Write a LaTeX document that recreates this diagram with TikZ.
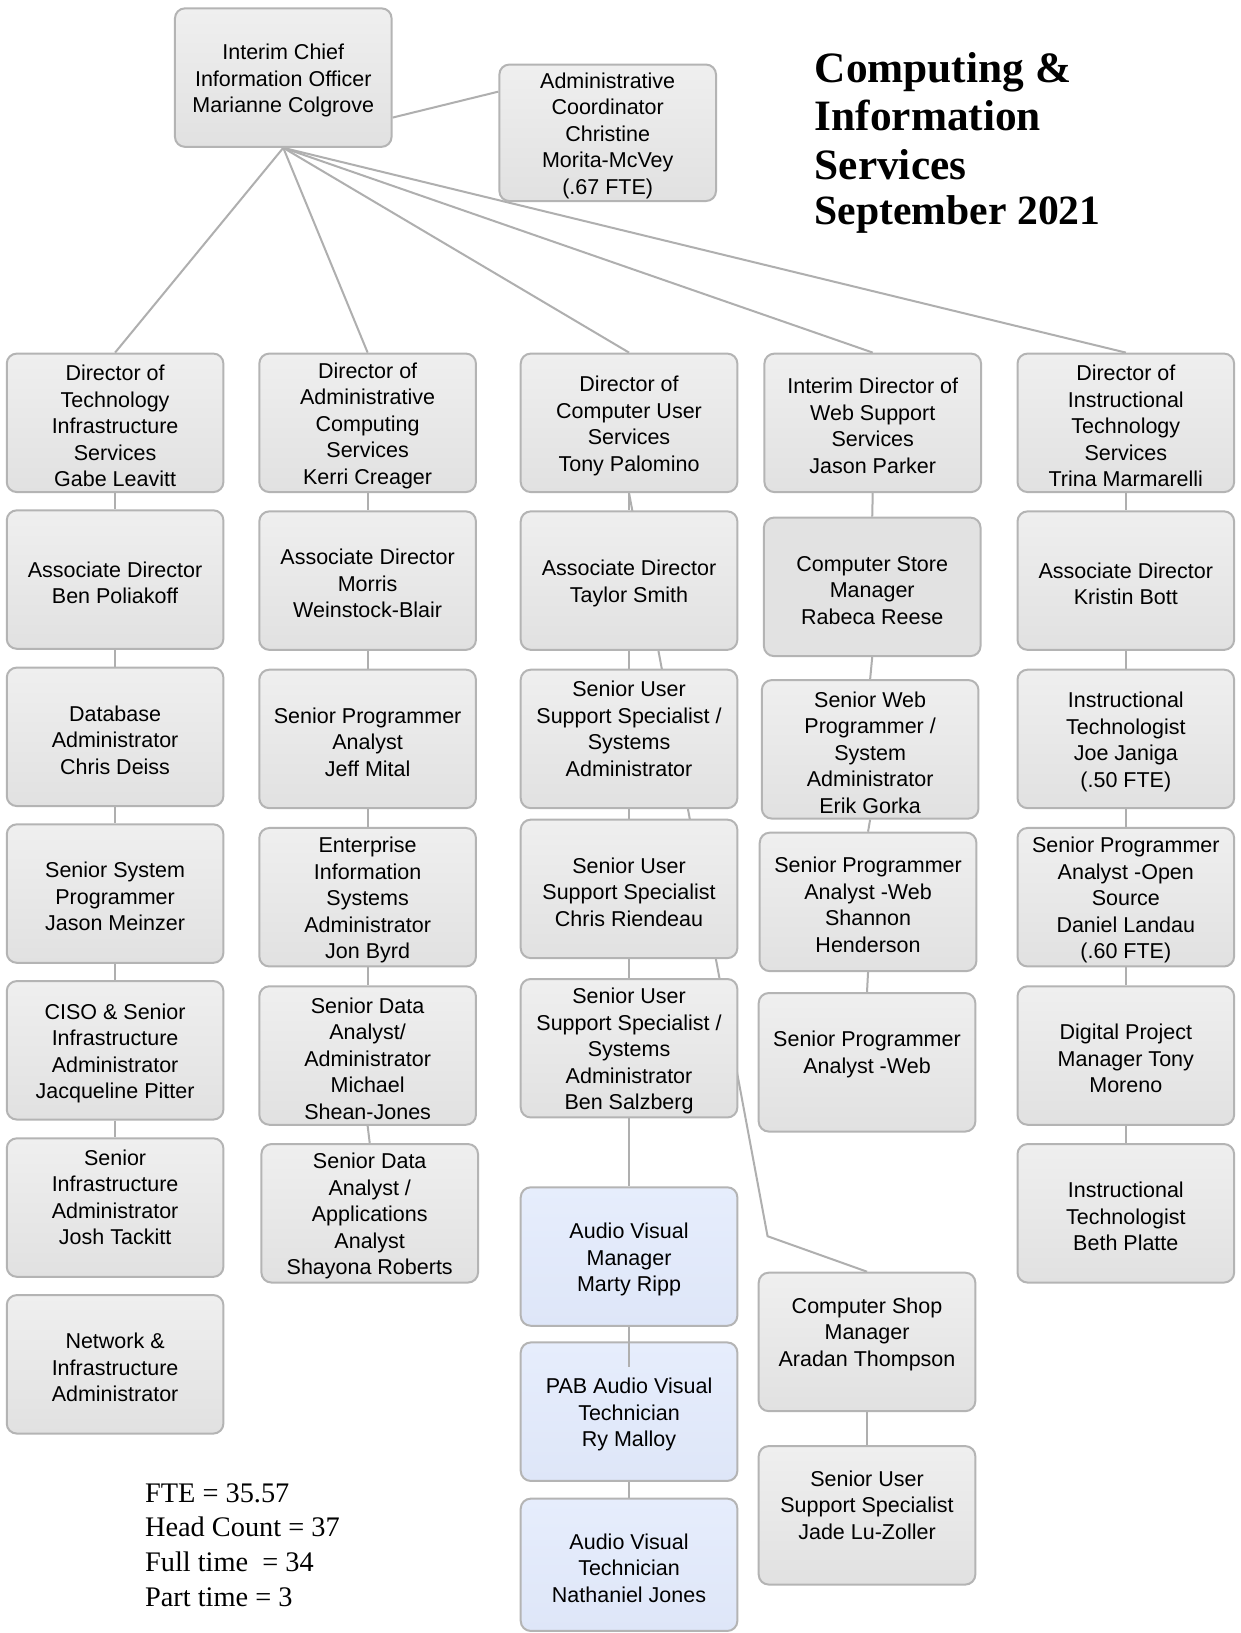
\documentclass[tikz,border=0pt]{standalone}
\usepackage{fontspec}
\setmainfont{Liberation Serif}
\newfontfamily\boxfont{Liberation Sans}
\usetikzlibrary{backgrounds}
\definecolor{boxborder}{HTML}{B4B4B4}
\definecolor{boxtop}{HTML}{EFEFEF}
\definecolor{boxbot}{HTML}{E1E1E1}
\definecolor{storefill}{HTML}{E2E2E2}
\definecolor{avtop}{HTML}{E6EDFC}
\definecolor{avbot}{HTML}{DEE6F8}
\definecolor{linkgray}{HTML}{AFAFAF}
\newcommand\tp{\rule{0pt}{13pt}}
\tikzset{
  orgbox/.style={draw=boxborder, line width=1.2pt, rounded corners=6pt,
    top color=boxtop, bottom color=boxbot, minimum width=130pt,
    minimum height=83.1pt, inner sep=0pt, align=center, text=black,
    font=\boxfont\fontsize{12.9}{15.9}\selectfont},
  avbox/.style={orgbox, top color=avtop, bottom color=avbot},
  flatbox/.style={orgbox, top color=storefill, bottom color=storefill},
  link/.style={draw=linkgray, line width=1.2pt},
}
\begin{document}
\begin{tikzpicture}[x=0.625pt, y=-0.625pt]
\useasboundingbox (0,0) rectangle (1191,1568);

% top
\node[orgbox] (cio) at (272,74.5) {\tp Interim Chief\\Information Officer\\Marianne Colgrove};
\node[orgbox, minimum height=81.9pt] (adm) at (583.5,127.5) {\tp Administrative\\Coordinator\\Christine\\Morita-McVey\\(.67 FTE)};

\node[anchor=north west, inner sep=0pt, align=left,
  font=\bfseries\fontsize{26}{29}\selectfont] (title) at (782,50)
  {Computing \&\\Information\\Services\\[-2pt]{\fontsize{25}{28}\selectfont September 2021}};

% column 1
\node[orgbox] (d1) at (110.5,406) {\tp Director of\\Technology\\Infrastructure\\Services\\Gabe Leavitt};
\node[orgbox] (a1) at (110.5,556.5) {\tp Associate Director\\Ben Poliakoff};
\node[orgbox] (db) at (110.5,707.5) {\tp Database\\Administrator\\Chris Deiss};
\node[orgbox] (ssp) at (110.5,858) {\tp Senior System\\Programmer\\Jason Meinzer};
\node[orgbox] (ciso) at (110.5,1008.5) {\tp CISO \& Senior\\Infrastructure\\Administrator\\Jacqueline Pitter};
\node[orgbox] (josh) at (110.5,1159.5) {\tp Senior\\Infrastructure\\Administrator\\Josh Tackitt\\\mbox{}};
\node[orgbox] (net) at (110.5,1310) {\tp Network \&\\Infrastructure\\Administrator};

% column 2
\node[orgbox] (d2) at (353,406) {\tp Director of\\Administrative\\Computing\\Services\\Kerri Creager};
\node[orgbox] (a2) at (353,557.5) {\tp Associate Director\\Morris\\Weinstock-Blair};
\node[orgbox] (jeff) at (353,709.5) {\tp Senior Programmer\\Analyst\\Jeff Mital};
\node[orgbox] (eis) at (353,861.5) {\tp Enterprise\\Information\\Systems\\Administrator\\Jon Byrd};
\node[orgbox] (msj) at (353,1013.5) {\tp Senior Data\\Analyst/\\Administrator\\Michael\\Shean-Jones};
\node[orgbox] (sr) at (355,1165) {\tp Senior Data\\Analyst /\\Applications\\Analyst\\Shayona Roberts};

% column 3
\node[orgbox] (d3) at (604,406) {\tp Director of\\Computer User\\Services\\Tony Palomino};
\node[orgbox] (ts) at (604,557.5) {\tp Associate Director\\Taylor Smith};
\node[orgbox] (sa1) at (604,709.5) {\tp Senior User\\Support Specialist /\\Systems\\Administrator\\\mbox{}};
\node[orgbox] (cr) at (604,853.5) {\tp Senior User\\Support Specialist\\Chris Riendeau};
\node[orgbox] (bs) at (604,1006.5) {\tp Senior User\\Support Specialist /\\Systems\\Administrator\\Ben Salzberg};
\node[avbox] (av) at (604,1206.5) {\tp Audio Visual\\Manager\\Marty Ripp};
\node[avbox] (pab) at (604,1355.5) {\tp PAB Audio Visual\\Technician\\Ry Malloy};
\node[avbox, minimum height=79.4pt] (nj) at (604,1502.5) {\tp Audio Visual\\Technician\\Nathaniel Jones};

% column 4
\node[orgbox] (d4) at (838,406) {\tp Interim Director of\\Web Support\\Services\\Jason Parker};
\node[flatbox] (store) at (837.5,563.5) {\tp Computer Store\\Manager\\Rabeca Reese};
\node[orgbox] (web) at (835.5,719.5) {\tp Senior Web\\Programmer /\\System\\Administrator\\Erik Gorka};
\node[orgbox] (shan) at (833.5,866) {\tp Senior Programmer\\Analyst -Web\\Shannon\\Henderson};
\node[orgbox] (spaw) at (832.5,1020) {\tp Senior Programmer\\Analyst -Web\\\mbox{}};
\node[orgbox] (shop) at (832.5,1288.5) {\tp Computer Shop\\Manager\\Aradan Thompson\\\mbox{}};
\node[orgbox] (jade) at (832.5,1455) {\tp Senior User\\Support Specialist\\Jade Lu-Zoller\\\mbox{}};
\coordinate (bend) at (737,1187);

% column 5
\node[orgbox] (d5) at (1081,406) {\tp Director of\\Instructional\\Technology\\Services\\Trina Marmarelli};
\node[orgbox] (kb) at (1081,557.5) {\tp Associate Director\\Kristin Bott};
\node[orgbox] (jj) at (1081,709.5) {\tp Instructional\\Technologist\\Joe Janiga\\(.50 FTE)};
\node[orgbox] (dl) at (1081,861.5) {\tp Senior Programmer\\Analyst -Open\\Source\\Daniel Landau\\(.60 FTE)};
\node[orgbox] (dp) at (1081,1013.5) {\tp Digital Project\\Manager Tony\\Moreno};
\node[orgbox] (bp) at (1081,1165) {\tp Instructional\\Technologist\\Beth Platte};

% totals
\node[anchor=north west, inner sep=0pt, align=left,
  font=\fontsize{17}{20.8}\selectfont] (fte) at (139,1424)
  {FTE = 35.57\\Head Count = 37\\Full time\ \ = 34\\Part time = 3};

\begin{scope}[on background layer]
  \fill[white] (0,0) rectangle (1191,1568);
  \draw[link] ([yshift=-24pt]cio.east) -- ([yshift=24.7pt]adm.west);
  \foreach \d in {d1,d2,d3,d4,d5} \draw[link] (cio.south) -- (\d.north);
  \foreach \a/\b in {d1/a1,a1/db,db/ssp,ssp/ciso,ciso/josh,
                     d2/a2,a2/jeff,jeff/eis,eis/msj,msj/sr,
                     d3/ts,ts/sa1,sa1/cr,cr/bs,bs/av,pab/nj,
                     d4/store,store/web,web/shan,shan/spaw,shop/jade,
                     d5/kb,kb/jj,jj/dl,dl/dp,dp/bp}
    \draw[link] (\a.south) -- (\b.north);
  \draw[link] (d3.south) -- (bend) -- (shop.north);
\end{scope}
\draw[link] (av.south) -- ([yshift=-15.6pt]pab.north);
\end{tikzpicture}
\end{document}
